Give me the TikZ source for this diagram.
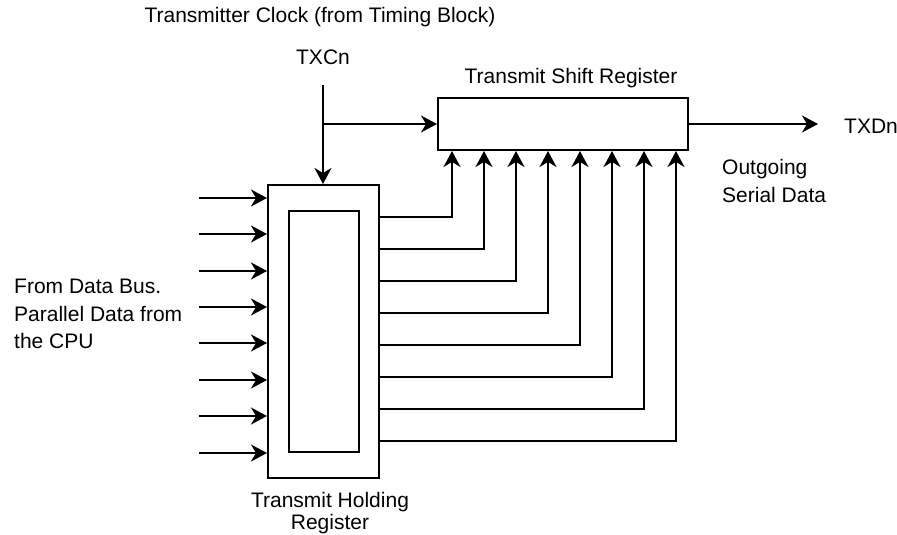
\documentclass[tikz,border=0pt]{standalone}
\usepackage{fontspec}
\setmainfont{Liberation Sans}
\usetikzlibrary{arrows.meta,calc}
\begin{document}
\begin{tikzpicture}[x=1pt,y=-1pt, every node/.style={font=\fontsize{21}{27.5}\selectfont},
  reg/.style={draw,line width=2pt,inner sep=0pt},
  wire/.style={line width=2pt},
  arr/.style={wire,-{Stealth[length=16pt,width=17pt,inset=5pt]}}]
\useasboundingbox (0,0) rectangle (897,535);
% Registers
\node[reg,minimum width=250pt,minimum height=52pt] (tsr) at (563,124) {};
\node[reg,minimum width=111pt,minimum height=293pt] (thr) at (323.5,331.5) {};
\node[reg,minimum width=70pt,minimum height=241pt] (thrin) at (324,331.5) {};
% Labels
\node (clktxt) at (320,17) {Transmitter Clock (from Timing Block)};
\node (txc) at (323,57) {TXCn};
\node (tsrtxt) at (571,78) {Transmit Shift Register};
\node[anchor=west,inner sep=0pt] (txd) at (844,126) {TXDn};
\node[anchor=west,align=left,inner sep=0pt] (serial) at (722,181) {Outgoing\\Serial Data};
\node[anchor=west,align=left,inner sep=0pt] (bus) at (14,314) {From Data Bus.\\Parallel Data from\\the CPU};
\node[align=center,inner sep=0pt,font=\fontsize{21}{22}\selectfont] (thrtxt) at (330,513) {Transmit Holding\\Register};
% Clock
\coordinate (clk) at (323,85);
\draw[arr] (clk) -- (thr.north -| clk);
\draw[arr] (clk |- tsr.west) -- (tsr.west);
% Serial output
\coordinate (txdend) at (818,124);
\draw[arr] (tsr.east) -- (txdend);
% Parallel inputs
\foreach \y in {198,234,271,307,343,380,416,453} {
  \coordinate (in) at (199,\y);
  \draw[arr] (in) -- (in -| thr.west);
}
% Parallel transfer to shift register
\foreach \y/\x in {217/452,249/484,281/516,313/548,345/580,377/612,409/644,441/676} {
  \draw[arr] (thr.east |- 0,\y) -| (tsr.south -| \x,0);
}
\end{tikzpicture}
\end{document}
